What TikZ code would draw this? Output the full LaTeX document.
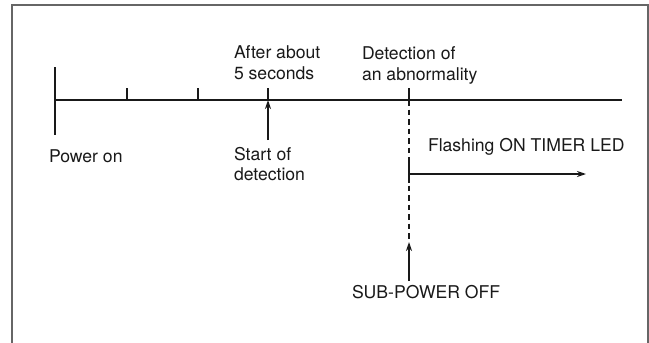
\documentclass[tikz,border=0pt]{standalone}
\usepackage{fontspec}
\setmainfont{TeX Gyre Heros}
\usetikzlibrary{arrows.meta}
\begin{document}
\begin{tikzpicture}[x=1pt,y=-1pt,
  lbl/.style={anchor=base west,inner sep=0pt,outer sep=0pt,font=\fontsize{17.6}{20}\selectfont,text=black!90},
  axisline/.style={line width=2.8pt,black!90},
  tickline/.style={line width=1.2pt,black!90},
  arr/.style={line width=1.3pt,black!90,-{Stealth[length=9pt,width=6pt]}},
  dashline/.style={line width=1.2pt,black!90,dash pattern=on 5.5pt off 4pt},
  frameline/.style={line width=1.8pt,black!60}]
\useasboundingbox (0,0) rectangle (649,343);
% frame
\draw[frameline] (12,343) -- (12,5) -- (648,5) -- (648,343);
% coordinates
\coordinate (a0) at (55,100);
\coordinate (aend) at (622,100);
\coordinate (p0) at (55,67);
\coordinate (p1) at (55,135);
\coordinate (t1) at (127,100);
\coordinate (t1u) at (127,88);
\coordinate (t2) at (198,100);
\coordinate (t2u) at (198,88);
\coordinate (t3) at (268,100);
\coordinate (t3u) at (268,88);
\coordinate (s3) at (268,140);
\coordinate (d0) at (409,100);
\coordinate (d0u) at (409,88);
\coordinate (d1) at (409,239);
\coordinate (f0) at (409,161);
\coordinate (f1) at (409,183);
\coordinate (fl0) at (409,174);
\coordinate (fl1) at (586,174);
\coordinate (so0) at (409,281);
\coordinate (so1) at (409,242);
% axis
\draw[axisline] (a0) -- (aend);
\draw[axisline] (p0) -- (p1);
\draw[tickline] (t1) -- (t1u);
\draw[tickline] (t2) -- (t2u);
\draw[tickline] (t3) -- (t3u);
\draw[tickline] (d0) -- (d0u);
\draw[dashline] (d0) -- (d1);
\draw[tickline] (f0) -- (f1);
% arrows
\draw[arr] (s3) -- (t3);
\draw[arr] (fl0) -- (fl1);
\draw[arr] (so0) -- (so1);
% labels
\node[lbl] (after1) at (234,58.5) {After about};
\node[lbl] (after2) at (234,79) {5 seconds};
\node[lbl] (det1) at (362,59.5) {Detection of};
\node[lbl] (det2) at (362,80) {an abnormality};
\node[lbl] (pon) at (49,162.5) {Power on};
\node[lbl] (start1) at (234,160.5) {Start of};
\node[lbl] (start2) at (234,180.5) {detection};
\node[lbl] (flash) at (428,151.5) {Flashing ON TIMER LED};
\node[lbl] (sub) at (352,298.5) {SUB-POWER OFF};
\end{tikzpicture}
\end{document}
